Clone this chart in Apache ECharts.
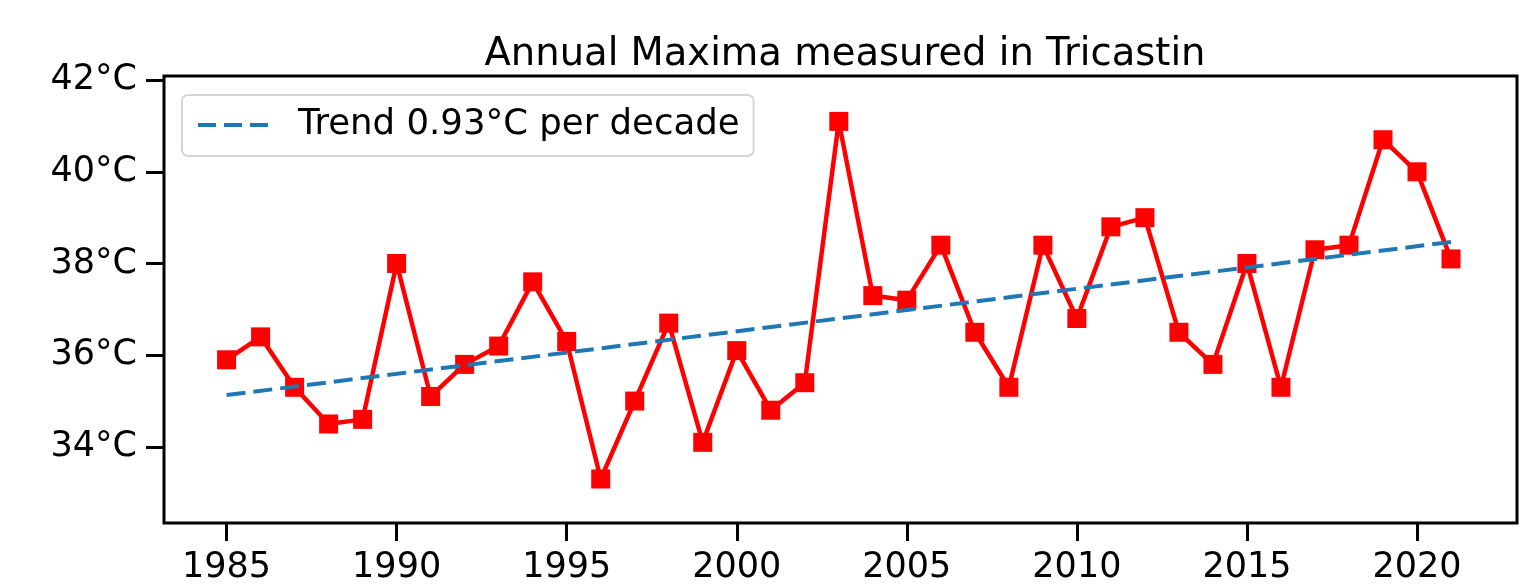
<!DOCTYPE html>
<html>
<head>
<meta charset="utf-8">
<style>
  html, body { margin: 0; padding: 0; background: #ffffff; }
  #chart { width: 1527px; height: 585px; }
</style>
<script src="https://cdn.jsdelivr.net/npm/echarts@6/dist/echarts.min.js"></script>
</head>
<body>
<div id="chart"></div>
<script>
// Annual maximum temperature per year (°C)
const years = [1985, 1986, 1987, 1988, 1989, 1990, 1991, 1992, 1993, 1994,
               1995, 1996, 1997, 1998, 1999, 2000, 2001, 2002, 2003, 2004,
               2005, 2006, 2007, 2008, 2009, 2010, 2011, 2012, 2013, 2014,
               2015, 2016, 2017, 2018, 2019, 2020, 2021];
const maxima = [35.9, 36.4, 35.3, 34.5, 34.6, 38.0, 35.1, 35.8, 36.2, 37.6,
                36.3, 33.3, 35.0, 36.7, 34.1, 36.1, 34.8, 35.4, 41.1, 37.3,
                37.2, 38.4, 36.5, 35.3, 38.4, 36.8, 38.8, 39.0, 36.5, 35.8,
                38.0, 35.3, 38.3, 38.4, 40.7, 40.0, 38.1];

// Linear trend line end points
const trendYears = [1985, 2021];
const trendValues = [35.13, 38.47];
const trendLabel = 'Trend 0.93°C per decade';

// Tick positions
const xTicks = [1985, 1990, 1995, 2000, 2005, 2010, 2015, 2020];
const yTicks = [34, 36, 38, 40, 42];

const FONT = 'DejaVu Sans';

const chart = echarts.init(document.getElementById('chart'), null, { renderer: 'canvas' });

chart.setOption({
  animation: false,
  backgroundColor: '#ffffff',
  title: {
    text: 'Annual Maxima measured in Tricastin',
    left: 840,
    textAlign: 'center',
    top: 30,
    textStyle: { fontFamily: FONT, fontSize: 38.5, fontWeight: 'normal', color: '#000000' }
  },
  legend: {
    data: [trendLabel],
    left: 182,
    top: 95,
    orient: 'vertical',
    padding: [12, 14, 13, 14],
    itemWidth: 70,
    itemHeight: 12,
    itemGap: 0,
    backgroundColor: 'rgba(255,255,255,0.8)',
    borderColor: '#d6d6d6',
    borderWidth: 2,
    borderRadius: 6,
    itemStyle: { opacity: 0 },
    lineStyle: { color: '#1f77b4', width: 4, type: [18, 8] },
    textStyle: { fontFamily: FONT, fontSize: 35.5, color: '#000000', padding: [0, 0, 0, 25] }
  },
  grid: {
    left: 164,
    right: 10,
    top: 76,
    bottom: 62,
    show: true,
    borderColor: '#000000',
    borderWidth: 3,
    backgroundColor: 'transparent'
  },
  xAxis: {
    type: 'value',
    min: 1983.16,
    max: 2022.94,
    splitLine: { show: false },
    axisLine: { show: false },
    axisTick: {
      show: true,
      customValues: xTicks,
      length: 18,
      lineStyle: { color: '#000000', width: 3 }
    },
    axisLabel: {
      customValues: xTicks,
      margin: 27,
      fontFamily: FONT,
      fontSize: 35,
      color: '#000000',
      formatter: v => String(v)
    }
  },
  yAxis: {
    type: 'value',
    min: 32.34,
    max: 42.09,
    splitLine: { show: false },
    axisLine: { show: false },
    axisTick: {
      show: true,
      customValues: yTicks,
      length: 18,
      lineStyle: { color: '#000000', width: 3 }
    },
    axisLabel: {
      customValues: yTicks,
      margin: 27,
      fontFamily: FONT,
      fontSize: 35,
      color: '#000000',
      formatter: v => v + '°C'
    }
  },
  series: [
    {
      name: 'Annual maximum',
      type: 'line',
      data: years.map((y, i) => [y, maxima[i]]),
      symbol: 'rect',
      symbolSize: 19,
      itemStyle: { color: '#ff0000' },
      lineStyle: { color: '#ff0000', width: 4.5 },
      z: 3
    },
    {
      name: trendLabel,
      type: 'line',
      data: trendYears.map((y, i) => [y, trendValues[i]]),
      symbol: 'none',
      itemStyle: { color: '#1f77b4' },
      lineStyle: { color: '#1f77b4', width: 4, type: [19, 8] },
      z: 4
    }
  ]
});
</script>
</body>
</html>
